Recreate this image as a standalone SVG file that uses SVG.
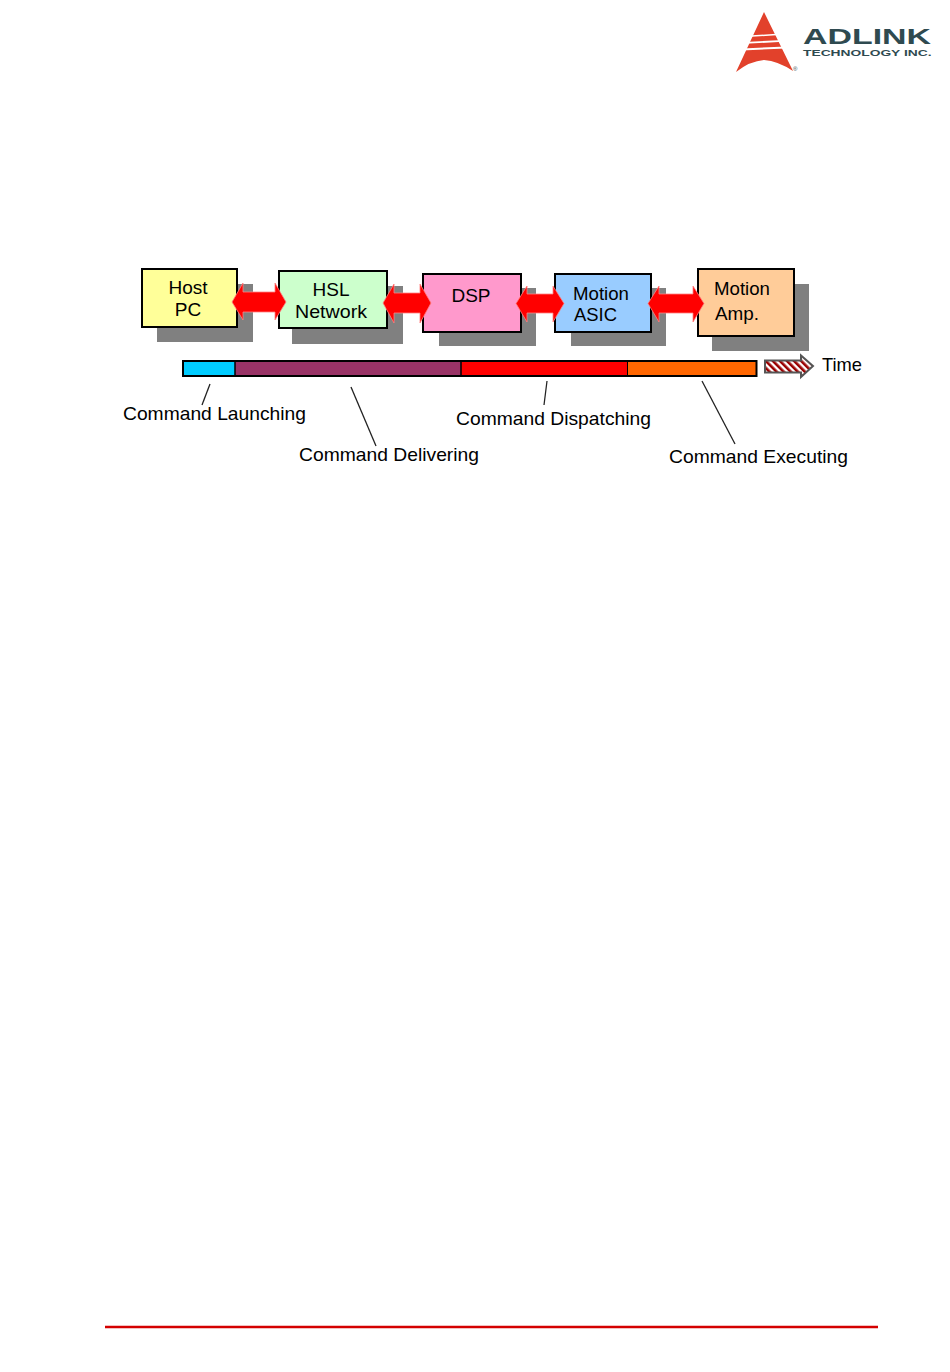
<svg xmlns="http://www.w3.org/2000/svg" width="950" height="1372" viewBox="0 0 950 1372">
<style>
.box{stroke:#000;stroke-width:2}
.shadow{fill:#808080}
.arrow{fill:#f00;stroke:#ff8080;stroke-width:.8}
.t{font-family:"Liberation Sans",Arial,sans-serif;font-size:19px;fill:#000}
.lead{stroke:#222;stroke-width:1.3;fill:none}
.seg{stroke:none}
</style>
<defs>
<pattern id="hatch" width="5" height="5" patternUnits="userSpaceOnUse" patternTransform="rotate(-45)">
<rect width="5" height="5" fill="#fff"/><rect width="2.600" height="5" fill="#900"/>
</pattern>
</defs>
<rect width="950" height="1372" fill="#fff"/>
<g id="logo">
<path d="M764 12 L793 71 Q778 61 764 60 Q750 61 736 72 Z" fill="#e2412b"/>
<path d="M748 35.500 L780 33.500 L780 35 L748 37 Z M745 42 L783 40 L783 41.800 L745 43.800 Z M742 48.500 L786 46.500 L786 48.500 L742 50.500 Z" fill="#fff"/>
<text x="803" y="43.500" font-family="'Liberation Sans',Arial,sans-serif" font-weight="700" font-size="22.500" fill="#2f4a50" textLength="128" lengthAdjust="spacingAndGlyphs">ADLINK</text>
<text x="803" y="56" font-family="'Liberation Sans',Arial,sans-serif" font-weight="700" font-size="9.800" fill="#2f4a50" textLength="128.500" lengthAdjust="spacingAndGlyphs">TECHNOLOGY INC.</text>
<text x="793" y="71" font-family="'Liberation Sans',Arial,sans-serif" font-size="6" fill="#2f4a50">®</text>
</g>
<g id="node-host">
<rect class="shadow" x="157" y="284" width="96" height="58"/>
<rect class="box" x="142" y="269" width="95" height="58" fill="#ffff99"/>
<text class="t" x="188" y="294" text-anchor="middle">Host</text>
<text class="t" x="188" y="316" text-anchor="middle">PC</text>
</g>
<g id="node-hsl">
<rect class="shadow" x="292" y="286" width="111" height="58"/>
<rect class="box" x="279" y="271" width="108" height="57" fill="#ccffcc"/>
<text class="t" x="331" y="296" text-anchor="middle">HSL</text>
<text class="t" x="295" y="318" textLength="72" lengthAdjust="spacingAndGlyphs">Network</text>
</g>
<g id="node-dsp">
<rect class="shadow" x="439" y="288" width="97" height="58"/>
<rect class="box" x="423" y="274" width="98" height="58" fill="#ff99cc"/>
<text class="t" x="471" y="302" text-anchor="middle">DSP</text>
</g>
<g id="node-asic">
<rect class="shadow" x="571" y="288" width="95" height="58"/>
<rect class="box" x="555" y="274" width="96" height="58" fill="#99ccff"/>
<text class="t" x="573" y="300" textLength="56" lengthAdjust="spacingAndGlyphs">Motion</text>
<text class="t" x="574" y="321" textLength="43" lengthAdjust="spacingAndGlyphs">ASIC</text>
</g>
<g id="node-amp">
<rect class="shadow" x="712" y="284" width="97" height="67"/>
<rect class="box" x="698" y="269" width="96" height="67" fill="#ffcc99"/>
<text class="t" x="714" y="295" textLength="56" lengthAdjust="spacingAndGlyphs">Motion</text>
<text class="t" x="715" y="320" textLength="44" lengthAdjust="spacingAndGlyphs">Amp.</text>
</g>
<g id="connectors">
<path class="arrow" d="M232 302 L243 283 V292 H275 V283 L286 302 L275 320 V312 H243 V320 Z"/>
<path class="arrow" d="M383 303 L394 284 V293 H420 V284 L431 303 L420 323 V313 H394 V323 Z"/>
<path class="arrow" d="M516 303.500 L527 286 V294 H553 V286 L564 303.500 L553 322 V313 H527 V322 Z"/>
<path class="arrow" d="M648 303.500 L659 286 V294 H693 V286 L704 303.500 L693 322 V313 H659 V322 Z"/>
<path class="lead" d="M210 384 L202 405"/>
<path class="lead" d="M351 387 L376 446"/>
<path class="lead" d="M547 381 L544 405"/>
<path class="lead" d="M702 381 L735 444"/>
</g>
<g id="timeline">
<rect class="seg" x="183" y="361" width="52" height="15" fill="#00ccff"/>
<rect class="seg" x="235" y="361" width="226" height="15" fill="#993366"/>
<rect class="seg" x="461" y="361" width="166.500" height="15" fill="#f00"/>
<rect class="seg" x="627.500" y="361" width="129" height="15" fill="#ff6600"/>
<rect x="183" y="361" width="573.500" height="15" fill="none" stroke="#000" stroke-width="2"/>
<path d="M235 361 V376 M461 361 V376" stroke="#000" stroke-width="1.500"/>
<path d="M627.500 361 V376" stroke="#000" stroke-width="1"/>
</g>
<g id="time-arrow">
<path d="M765 360.500 H801 V355.500 L813 366 L801 377 V372.500 H765 Z" fill="url(#hatch)" stroke="#555" stroke-width="2"/>
<text class="t" x="822" y="371" textLength="40" lengthAdjust="spacingAndGlyphs">Time</text>
</g>
<g id="labels">
<text class="t" x="123" y="420" textLength="183" lengthAdjust="spacingAndGlyphs">Command Launching</text>
<text class="t" x="299" y="461" textLength="180" lengthAdjust="spacingAndGlyphs">Command Delivering</text>
<text class="t" x="456" y="425" textLength="195" lengthAdjust="spacingAndGlyphs">Command Dispatching</text>
<text class="t" x="669" y="463" textLength="179" lengthAdjust="spacingAndGlyphs">Command Executing</text>
</g>
<path id="footer-rule" d="M105 1327 H878" stroke="#d40000" stroke-width="2.400" fill="none"/>
</svg>
